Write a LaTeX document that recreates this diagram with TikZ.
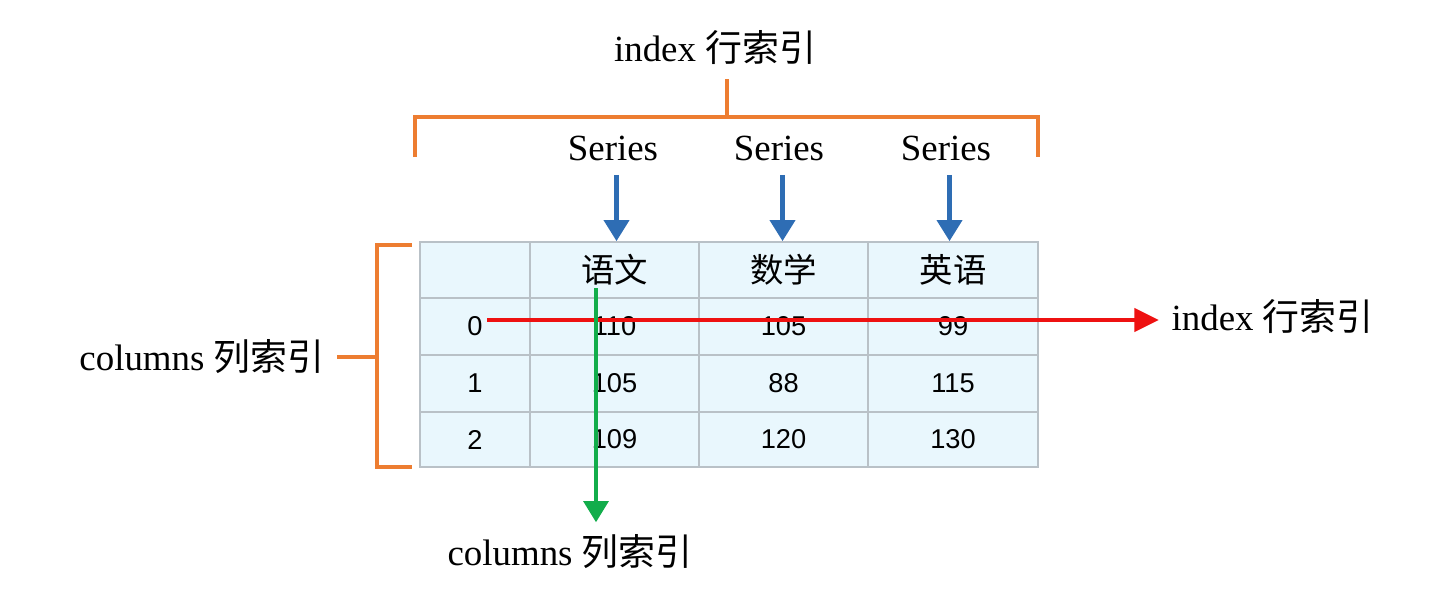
\documentclass[tikz,border=0pt]{standalone}
\usepackage{fontspec}
\setmainfont{Liberation Serif}
\setsansfont{Liberation Sans}
\newfontfamily\cjk{Noto Sans CJK SC}
\usetikzlibrary{arrows.meta, calc, positioning}

\definecolor{bracketorange}{HTML}{ED7D31}
\definecolor{seriesblue}{HTML}{2E6DB4}
\definecolor{rowred}{HTML}{EE1111}
\definecolor{colgreen}{HTML}{12AD4B}
\definecolor{cellblue}{HTML}{E9F7FD}
\definecolor{gridgray}{HTML}{B9C1C7}

\begin{document}
\begin{tikzpicture}[x=0.02cm, y=-0.02cm,
  lbl/.style={font=\fontsize{21}{24}\selectfont, inner sep=3pt},
  cell/.style={draw=gridgray, fill=cellblue, line width=0.9pt, inner sep=0pt,
    font=\sffamily\fontsize{15.5}{17}\selectfont},
  hdr/.style={cell, font=\cjk\fontsize{19}{21}\selectfont},
  brace/.style={draw=bracketorange, line width=2.8pt},
  sarrow/.style={draw=seriesblue, line width=2.8pt, -{Triangle[width=14pt, length=12pt]}},
  rarrow/.style={draw=rowred, line width=2.8pt, -{Triangle[width=13pt, length=14pt]}},
  carrow/.style={draw=colgreen, line width=2.3pt, -{Triangle[width=14pt, length=12pt]}}]
  \useasboundingbox (0,0) rectangle (1431,599);

  % Table header
  \foreach \name/\x/\w/\txt in {h0/475/2.2/, h1/614.5/3.38/语文, h2/783.5/3.38/数学, h3/953/3.4/英语}
    \node[hdr, minimum width=\w cm, minimum height=1.12cm] (\name) at (\x,270) {\txt};

  % Table rows
  \foreach \y/\h/\r/\a/\b/\c [count=\i from 0] in
      {326.5/1.14/0/110/105/99, 383.5/1.14/1/105/88/115, 439.5/1.1/2/109/120/130} {
    \node[cell, minimum width=2.2cm, minimum height=\h cm] (r\i c0) at (475,\y) {\r};
    \node[cell, minimum width=3.38cm, minimum height=\h cm] (r\i c1) at (614.5,\y) {\a};
    \node[cell, minimum width=3.38cm, minimum height=\h cm] (r\i c2) at (783.5,\y) {\b};
    \node[cell, minimum width=3.4cm, minimum height=\h cm] (r\i c3) at (953,\y) {\c};
  }

  % Series labels and arrows
  \node[lbl] (s1) at (613,148) {Series};
  \node[lbl] (s2) at (779,148) {Series};
  \node[lbl] (s3) at (946,148) {Series};
  \foreach \s/\h in {s1/h1, s2/h2, s3/h3}
    \draw[sarrow] ([xshift=2pt, yshift=-5pt]\s.south) -- ([xshift=2pt]\s.south |- \h.north);

  % Top bracket (index)
  \node[lbl] (idxtop) at (715,48) {index {\cjk 行索引}};
  \coordinate (tstem) at (727,117);
  \draw[brace] (415,157) -- (415,117) -- (1038,117) -- (1038,157);
  \draw[brace, shorten >=5pt] (tstem) -- (tstem |- idxtop.south);

  % Left bracket (columns)
  \node[lbl, anchor=east] (collft) at (330,357) {columns {\cjk 列索引}};
  \coordinate (lstem) at (377,357);
  \draw[brace] (412,245) -- (377,245) -- (377,467) -- (412,467);
  \draw[brace, shorten <=4pt] (collft.east) -- (lstem);

  % Row arrow (red)
  \node[lbl, anchor=west] (rowlbl) at (1166,317) {index {\cjk 行索引}};
  \coordinate (rstart) at (487,320);
  \draw[rarrow, shorten >=4pt] (rstart) -- (rstart -| rowlbl.west);

  % Column arrow (green)
  \node[lbl] (collbl) at (570,552) {columns {\cjk 列索引}};
  \coordinate (cstart) at (596,288);
  \draw[carrow, shorten >=4pt] (cstart) -- (cstart |- collbl.north);
\end{tikzpicture}
\end{document}
